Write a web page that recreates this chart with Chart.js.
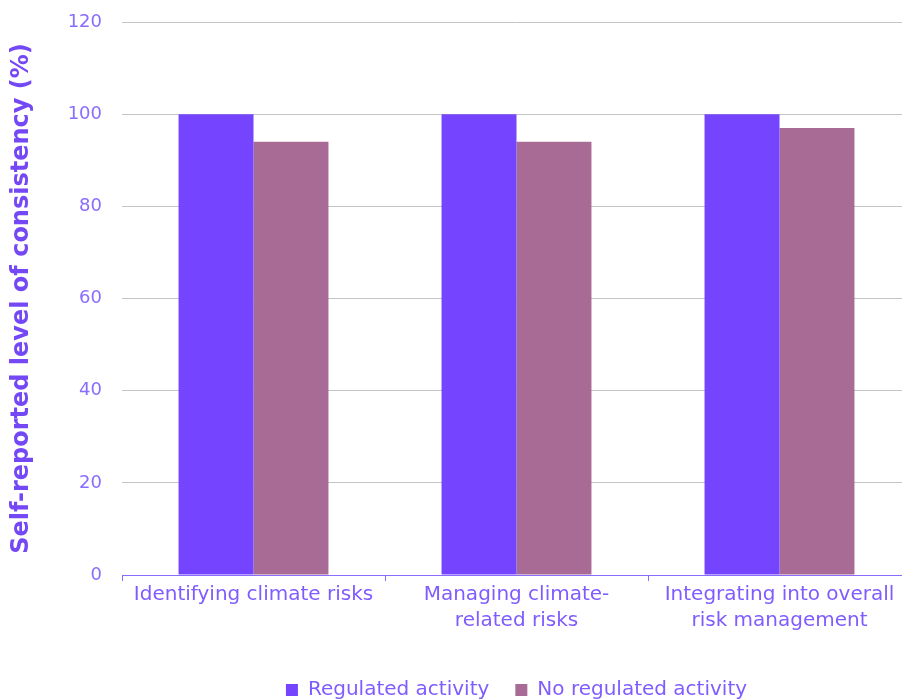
<!DOCTYPE html>
<html>
<head>
<meta charset="utf-8">
<script src="https://cdn.jsdelivr.net/npm/chart.js@4"></script>
<style>
  html, body { margin: 0; padding: 0; background: #fff; overflow: hidden; }
  #wrap { width: 902px; height: 700px; overflow: hidden; }
</style>
</head>
<body>
<div id="wrap"><canvas id="chart" width="912" height="710"></canvas></div>
<script>
// Data
const categories = [
    ['Identifying climate risks'],
    ['Managing climate-', 'related risks'],
    ['Integrating into overall', 'risk management']
];
const seriesNames = ['Regulated activity', 'No regulated activity'];
const regulated = [100, 100, 100];
const notRegulated = [94, 94, 97];
const yTicks = [0, 20, 40, 60, 80, 100, 120];

const colors = {
    regulated: '#7444ff',
    notRegulated: '#a86b95',
    text: '#7f5cff',
    title: '#7448f5',
    grid: '#c4c4c4',
    axis: '#8a6cff'
};

Chart.defaults.font.family = "'DejaVu Sans', sans-serif";
Chart.defaults.color = colors.text;

new Chart(document.getElementById('chart'), {
    type: 'bar',
    data: {
        labels: categories,
        datasets: [
            {
                label: seriesNames[0],
                data: regulated,
                backgroundColor: colors.regulated,
                borderWidth: 0
            },
            {
                label: seriesNames[1],
                data: notRegulated,
                backgroundColor: colors.notRegulated,
                borderWidth: 0
            }
        ]
    },
    options: {
        responsive: false,
        animation: false,
        layout: { padding: { top: 22, right: 1, left: 0, bottom: 0 } },
        datasets: {
            bar: { categoryPercentage: 0.57, barPercentage: 1 }
        },
        plugins: {
            tooltip: { enabled: false },
            legend: {
                position: 'bottom',
                fullSize: false,
                labels: {
                    boxWidth: 12,
                    boxHeight: 12,
                    padding: 26,
                    color: colors.text,
                    font: { size: 20 }
                }
            }
        },
        scales: {
            x: {
                grid: {
                    offset: true,
                    drawOnChartArea: false,
                    drawTicks: true,
                    tickLength: 6,
                    color: colors.axis
                },
                border: { display: true, color: colors.axis, width: 1, z: 1 },
                ticks: {
                    padding: 1,
                    color: colors.text,
                    maxRotation: 0,
                    autoSkip: false,
                    font: { size: 20, lineHeight: 1.3 }
                },
                afterFit: (scale) => { scale.height = 79; }
            },
            y: {
                min: 0,
                max: 120,
                afterBuildTicks: (scale) => {
                    scale.ticks = yTicks.map(v => ({ value: v }));
                },
                grid: {
                    // baseline is drawn by the x axis
                    color: (ctx) => ctx.tick && ctx.tick.value === 0 ? 'rgba(0,0,0,0)' : colors.grid,
                    drawTicks: true,
                    tickLength: 20,
                    tickColor: 'rgba(0,0,0,0)',
                    lineWidth: 1
                },
                border: { display: false },
                ticks: {
                    padding: 0,
                    color: colors.axis,
                    font: { size: 18 }
                },
                title: {
                    display: true,
                    text: 'Self-reported level of consistency (%)',
                    color: colors.title,
                    padding: { top: 7, bottom: 0 },
                    font: { size: 24, weight: 'bold' }
                },
                afterFit: (scale) => { scale.width = 122; }
            }
        }
    }
});
</script>
</body>
</html>
